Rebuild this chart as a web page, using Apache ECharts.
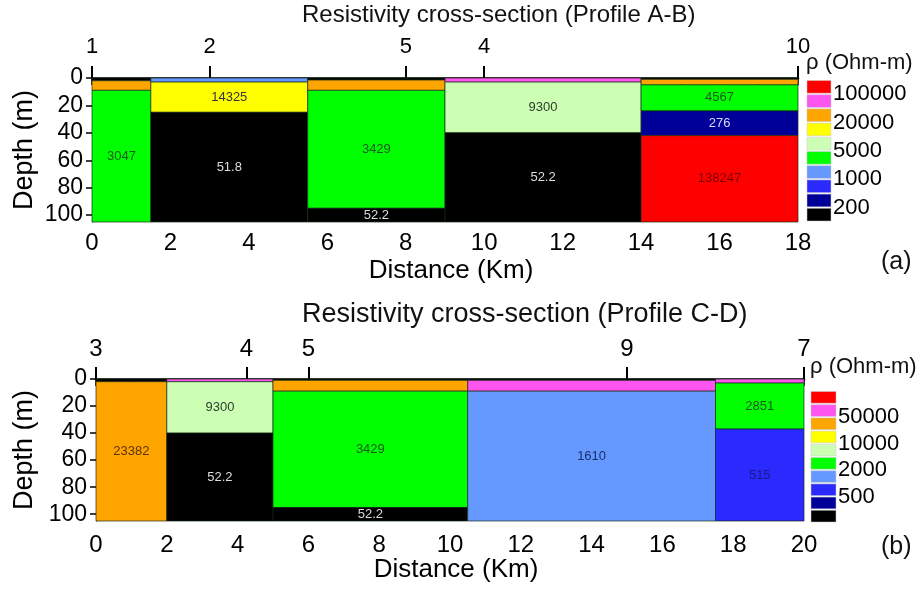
<!DOCTYPE html>
<html>
<head>
<meta charset="utf-8">
<script src="https://cdn.jsdelivr.net/npm/echarts@6/dist/echarts.min.js"></script>
<style>
  html,body{margin:0;padding:0;background:#fff;}
  #chart{width:921px;height:590px;}
</style>
</head>
<body>
<div id="chart"></div>
<script>
// colour classes, top of the colour bar to the bottom
var palette=['#ff0000','#ff55f0','#ffa500','#ffff00','#ccffb3','#00ff00','#6699ff','#2a2aff','#000099','#000000'];
var textColors=['#7a0000','#333','#5a3300','#333','#2d3d2d','#1a5a1a','#1c2d6e','#1a1a80','#d8d8ff','#dddddd'];

// layers: [x from (km), x to (km), depth top (m), depth bottom (m), colour class, label]
var layersAB=[
  [0,1.5,0,2,9,''],[0,1.5,2,9,2,''],[0,1.5,9,105,5,'3047'],
  [1.5,5.5,0,3,6,''],[1.5,5.5,3,25,3,'14325'],[1.5,5.5,25,105,9,'51.8'],
  [5.5,9,0,1.5,9,''],[5.5,9,1.5,9,2,''],[5.5,9,9,95,5,'3429'],[5.5,9,95,105,9,'52.2'],
  [9,14,0,3,1,''],[9,14,3,40,4,'9300'],[9,14,40,105,9,'52.2'],
  [14,18,0,1,9,''],[14,18,1,5,2,''],[14,18,5,24,5,'4567'],[14,18,24,42,8,'276'],[14,18,42,105,0,'138247']
];
var layersCD=[
  [0,2,0,2,9,''],[0,2,2,105,2,'23382'],
  [2,5,0,2,1,''],[2,5,2,40,4,'9300'],[2,5,40,105,9,'52.2'],
  [5,10.5,0,1,9,''],[5,10.5,1,9,2,''],[5,10.5,9,95,5,'3429'],[5,10.5,95,105,9,'52.2'],
  [10.5,17.5,0,1,9,''],[10.5,17.5,1,9,1,''],[10.5,17.5,9,105,6,'1610'],
  [17.5,20,0,3,1,''],[17.5,20,3,37,5,'2851'],[17.5,20,37,105,7,'515']
];

// stations along the profiles
var stationPosAB=[0,3,8,10,18];
var stationNamesAB=['1','2','5','4','10'];
var stationPosCD=[0,4.25,6,15,20];
var stationNamesCD=['3','4','5','9','7'];

var depthTicks=[0,20,40,60,80,100];

// colour bar labels, placed on the boundaries between classes
var legendPosAB=[1,3,5,7,9];
var legendNamesAB=['100000','20000','5000','1000','200'];
var legendPosCD=[2,4,6,8];
var legendNamesCD=['50000','10000','2000','500'];
var legendClasses=[0,1,2,3,4,5,6,7,8,9];

var FONT='Liberation Sans, Arial, sans-serif';
var chart=echarts.init(document.getElementById('chart'));

var makeRender=function(layers){
  return function(params,api){
    var a=api.coord([api.value(0),api.value(2)]);
    var b=api.coord([api.value(1),api.value(3)]);
    var ci=api.value(4);
    return {
      type:'rect',
      shape:{x:a[0],y:a[1],width:b[0]-a[0],height:b[1]-a[1]},
      style:{fill:palette[ci],stroke:'rgba(20,40,20,0.85)',lineWidth:0.8},
      textContent:{style:{text:layers[params.dataIndex][5],fill:textColors[ci],font:'13px '+FONT}},
      textConfig:{position:'inside'}
    };
  };
};

var renderLegend=function(params,api){
  var i=api.value(0);
  var a=api.coord([0,i]);
  var b=api.coord([1,i+1]);
  return {
    type:'rect',
    shape:{x:a[0],y:a[1]+0.5,width:b[0]-a[0],height:b[1]-a[1]-1.5},
    style:{fill:palette[i],stroke:'#c8c8c8',lineWidth:0.5}
  };
};

var distAxis=function(grid,max,margin){
  return {
    type:'value',gridIndex:grid,min:0,max:max,interval:1,position:'bottom',
    name:'Distance (Km)',nameLocation:'middle',nameGap:36,nameMoveOverlap:false,
    nameTextStyle:{fontSize:26,color:'#000',fontFamily:FONT,padding:[0,0,0,12]},
    axisLine:{show:true,lineStyle:{color:'#000',width:1}},
    axisTick:{show:true,length:7,lineStyle:{color:'#000',width:1.5}},
    axisLabel:{fontSize:24,color:'#000',fontFamily:FONT,margin:margin,
      formatter:function(v){return v%2===0?String(v):'';}},
    splitLine:{show:false}
  };
};
var stationAxis=function(grid,max,pos,names,margin,size){
  return {
    type:'value',gridIndex:grid,min:0,max:max,position:'top',
    axisLine:{show:true,lineStyle:{color:'#000',width:2.5}},
    axisTick:{show:true,length:12,customValues:pos,lineStyle:{color:'#000',width:2}},
    axisLabel:{fontSize:size,color:'#000',fontFamily:FONT,margin:margin,customValues:pos,
      formatter:function(v){return names[pos.indexOf(v)];}},
    splitLine:{show:false}
  };
};
var depthAxis=function(grid,gap){
  return {
    type:'value',gridIndex:grid,min:0,max:105,inverse:true,
    name:'Depth (m)',nameLocation:'middle',nameGap:gap,nameMoveOverlap:false,
    nameTextStyle:{fontSize:27,color:'#000',fontFamily:FONT},
    axisLine:{show:true,lineStyle:{color:'#000',width:1}},
    axisTick:{show:true,length:6,customValues:depthTicks,lineStyle:{color:'#000',width:1.5}},
    axisLabel:{fontSize:23,color:'#000',fontFamily:FONT,margin:9,customValues:depthTicks},
    splitLine:{show:false}
  };
};
var legendXAxis=function(grid){
  return {type:'value',gridIndex:grid,min:0,max:1,show:false};
};
var legendYAxis=function(grid,pos,names){
  return {
    type:'value',gridIndex:grid,min:0,max:10,inverse:true,position:'right',
    axisLine:{show:false},axisTick:{show:false},splitLine:{show:false},
    axisLabel:{fontSize:22,color:'#000',fontFamily:FONT,margin:2,customValues:pos,
      formatter:function(v){return names[pos.indexOf(v)];}}
  };
};

var option={
  animation:false,
  backgroundColor:'#fff',
  title:[
    {text:'Resistivity cross-section (Profile A-B)',left:302,top:3,padding:0,
      textStyle:{fontSize:24,fontWeight:'normal',color:'#111',fontFamily:FONT}},
    {text:'ρ (Ohm-m)',left:806,top:52,padding:0,
      textStyle:{fontSize:22,fontWeight:'normal',color:'#111',fontFamily:FONT}},
    {text:'(a)',left:881,top:250,padding:0,
      textStyle:{fontSize:25,fontWeight:'normal',color:'#111',fontFamily:FONT}},
    {text:'Resistivity cross-section (Profile C-D)',left:302,top:301,padding:0,
      textStyle:{fontSize:27,fontWeight:'normal',color:'#111',fontFamily:FONT}},
    {text:'ρ (Ohm-m)',left:810,top:356,padding:0,
      textStyle:{fontSize:22,fontWeight:'normal',color:'#111',fontFamily:FONT}},
    {text:'(b)',left:881,top:535,padding:0,
      textStyle:{fontSize:25,fontWeight:'normal',color:'#111',fontFamily:FONT}}
  ],
  grid:[
    {left:92,top:78,width:706,height:144,outerBoundsMode:'none'},
    {left:96,top:379,width:708,height:142,outerBoundsMode:'none'},
    {left:807,top:80,width:24,height:142,outerBoundsMode:'none'},
    {left:811,top:391,width:25,height:132,outerBoundsMode:'none'}
  ],
  xAxis:[
    distAxis(0,18,9),
    stationAxis(0,18,stationPosAB,stationNamesAB,20,22),
    distAxis(1,20,12),
    stationAxis(1,20,stationPosCD,stationNamesCD,18,24),
    legendXAxis(2),
    legendXAxis(3)
  ],
  yAxis:[
    depthAxis(0,54),
    depthAxis(1,58),
    legendYAxis(2,legendPosAB,legendNamesAB),
    legendYAxis(3,legendPosCD,legendNamesCD)
  ],
  series:[
    {type:'custom',xAxisIndex:0,yAxisIndex:0,renderItem:makeRender(layersAB),data:layersAB.map(function(l){return l.slice(0,5);})},
    {type:'custom',xAxisIndex:2,yAxisIndex:1,renderItem:makeRender(layersCD),data:layersCD.map(function(l){return l.slice(0,5);})},
    {type:'custom',xAxisIndex:4,yAxisIndex:2,renderItem:renderLegend,data:legendClasses.map(function(c){return [c];})},
    {type:'custom',xAxisIndex:5,yAxisIndex:3,renderItem:renderLegend,data:legendClasses.map(function(c){return [c];})}
  ]
};
chart.setOption(option);
</script>
</body>
</html>
